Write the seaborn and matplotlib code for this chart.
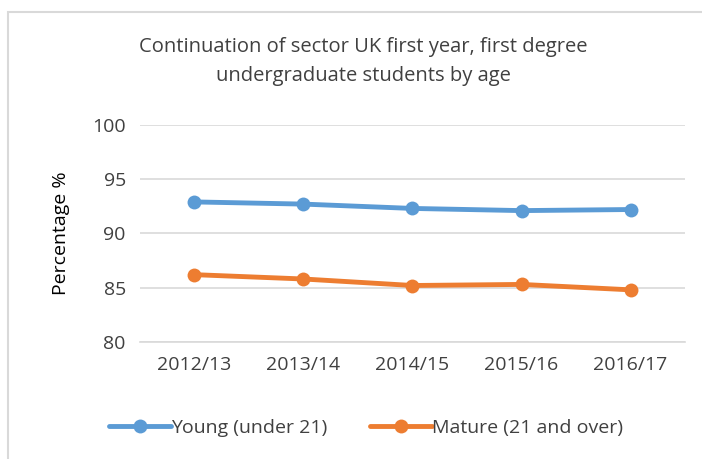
import matplotlib
matplotlib.use("Agg")
import matplotlib.pyplot as plt
from matplotlib.patches import Rectangle
import seaborn as sns
import pandas as pd

years = ["2012/13", "2013/14", "2014/15", "2015/16", "2016/17"]
young = [92.9, 92.7, 92.3, 92.1, 92.2]
mature = [86.2, 85.8, 85.2, 85.3, 84.8]
series_names = ["Young (under 21)", "Mature (21 and over)"]

df = pd.DataFrame({
    "Year": years * 2,
    "Value": young + mature,
    "Group": [series_names[0]] * len(years) + [series_names[1]] * len(years),
})

sns.set_theme(style="white")
plt.rcParams["font.family"] = ["Open Sans", "DejaVu Sans"]

fig = plt.figure(figsize=(7.02, 4.59), dpi=100)
ax = fig.add_axes([0.199, 0.255, 0.777, 0.473])

palette = {series_names[0]: "#5B9BD5", series_names[1]: "#ED7D31"}
sns.lineplot(data=df, x="Year", y="Value", hue="Group", palette=palette,
             marker="o", markersize=10, markeredgewidth=0, linewidth=3.5,
             sort=False, ax=ax, legend=True)

ax.set_ylim(80, 100)
ax.set_yticks([80, 85, 90, 95, 100])
ax.set_xlim(-0.5, 4.5)
ax.grid(axis="y", color="#D9D9D9", linewidth=1.2)
ax.set_axisbelow(True)
for s in ["top", "right", "left"]:
    ax.spines[s].set_visible(False)
ax.spines["bottom"].set_color("#D9D9D9")
ax.spines["bottom"].set_linewidth(1.2)
ax.tick_params(axis="both", length=0, labelsize=14, colors="#404040", pad=10)
ax.set_xlabel("")
ax.set_ylabel("Percentage %", fontsize=14, color="black", labelpad=16)

ax.legend(loc="center", bbox_to_anchor=(0.415, -0.395), ncol=2, frameon=False,
          fontsize=14, labelcolor="#404040", handlelength=3.2, handletextpad=0.0,
          columnspacing=2.2)

fig.text(0.518, 0.866, "Continuation of sector UK first year, first degree\nundergraduate students by age",
         ha="center", va="center", fontsize=14.5, color="#404040", linespacing=1.6)

fig.patches.append(Rectangle((0.012, -0.05), 1.1, 1.024, transform=fig.transFigure,
                             fill=False, edgecolor="#D9D9D9", linewidth=1.5))

fig.savefig("out.png", dpi=100)
